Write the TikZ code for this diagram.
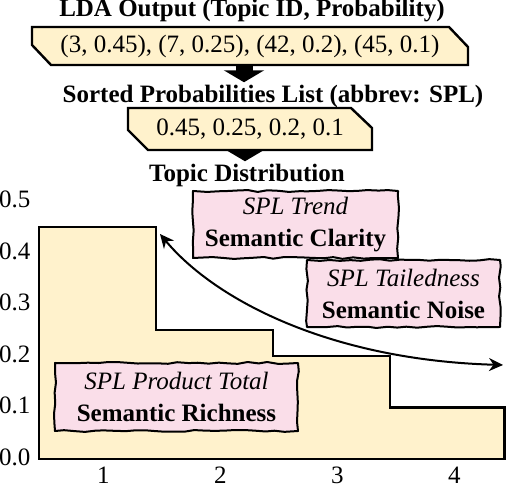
\documentclass[tikz,border=0pt]{standalone}
\usepackage{fontspec}
\setmainfont{Liberation Serif}
\usetikzlibrary{arrows.meta,decorations.pathmorphing}

\definecolor{listyellow}{RGB}{255,242,204}
\definecolor{notepink}{RGB}{250,222,233}

\tikzset{
    heading/.style={font=\fontsize{12.5}{16}\selectfont\bfseries, inner sep=1pt},
    listframe/.style={draw, line width=1.2pt, fill=listyellow, line join=miter},
    listtext/.style={inner sep=0pt},
    notebox/.style={draw, line width=1pt, fill=notepink, align=center, inner sep=2pt, line join=round,
        decorate, decoration={random steps, segment length=5pt, amplitude=0.5pt}},
    flowarrow/.style={line width=8.5pt, -{Triangle[length=6pt, width=20pt]}},
    trendarrow/.style={line width=1pt, {Stealth[length=7pt, width=6.5pt]}-{Stealth[length=7pt, width=6.5pt]}}
}

\begin{document}
\begin{tikzpicture}[x=0.5pt, y=-0.5pt, font=\fontsize{12.5}{16}\selectfont]
    \pgfmathsetseed{12}
    \useasboundingbox (0,0) rectangle (508,490);

    % Headers
    \node[heading] (ldatitle) at (252,11) {LDA Output (Topic ID, Probability)};
    \node[heading] (spltitle) at (273,96) {Sorted Probabilities List (abbrev: SPL)};
    \node[heading] (disttitle) at (247,175) {Topic Distribution};

    % Lists
    \path[listframe] (32,27) -- (449,27) -- (468,47) -- (468,65) -- (51,65) -- (32,45) -- cycle;
    \path[listframe] (128,108) -- (351,108) -- (372,128) -- (372,150) -- (148,150) -- (128,130) -- cycle;
    \node[listtext, minimum width=218pt, minimum height=19pt] (ldalist) at (250,46) {(3, 0.45), (7, 0.25), (42, 0.2), (45, 0.1)};
    \node[listtext, minimum width=122pt, minimum height=21pt] (spllist) at (250,129) {0.45, 0.25, 0.2, 0.1};

    % Block arrows
    \draw[flowarrow] ([xshift=-3pt]ldalist.south) -- ([xshift=-3pt]ldalist.south |- spltitle.north);
    \draw[flowarrow] ([xshift=-2.5pt]spllist.south) -- ([xshift=-2.5pt]spllist.south |- disttitle.north);

    % Chart
    \begin{scope}[shift={(39,459)}, x=58.5pt, y=257.5pt]
        \filldraw[fill=listyellow, line width=1.2pt] (0,0) -- (0,0.45) -- (1,0.45) -- (1,0.25) -- (2,0.25)
            -- (2,0.2) -- (3,0.2) -- (3,0.1) -- (3.98,0.1) -- (3.98,0) -- cycle;
        \foreach \v [count=\i] in {0.0,0.1,0.2,0.3,0.4,0.5}
            \node[anchor=east, inner sep=0pt] (ylab\i) at (-0.07,\v+0.004) {\v};
        \foreach \i in {1,...,4}
            \node (xlab\i) at (\i-0.45,-0.032) {\i};
    \end{scope}

    % Trend curve
    \coordinate (trendhigh) at (160,234);
    \coordinate (trendlow) at (503,365);
    \draw[trendarrow] (trendhigh) .. controls (215,300) and (330,360) .. (trendlow);

    % Notes
    \node[notebox, minimum width=102.5pt, minimum height=33.5pt] (clarity) at (295.5,224.5)
        {\textit{SPL Trend}\\\textbf{Semantic Clarity}};
    \node[notebox, minimum width=96.5pt, minimum height=33.5pt] (noise) at (403.5,293.5)
        {\textit{SPL Tailedness}\\\textbf{Semantic Noise}};
    \node[notebox, minimum width=121.5pt, minimum height=34pt] (richness) at (176.5,397)
        {\textit{SPL Product Total}\\\textbf{Semantic Richness}};
\end{tikzpicture}
\end{document}
